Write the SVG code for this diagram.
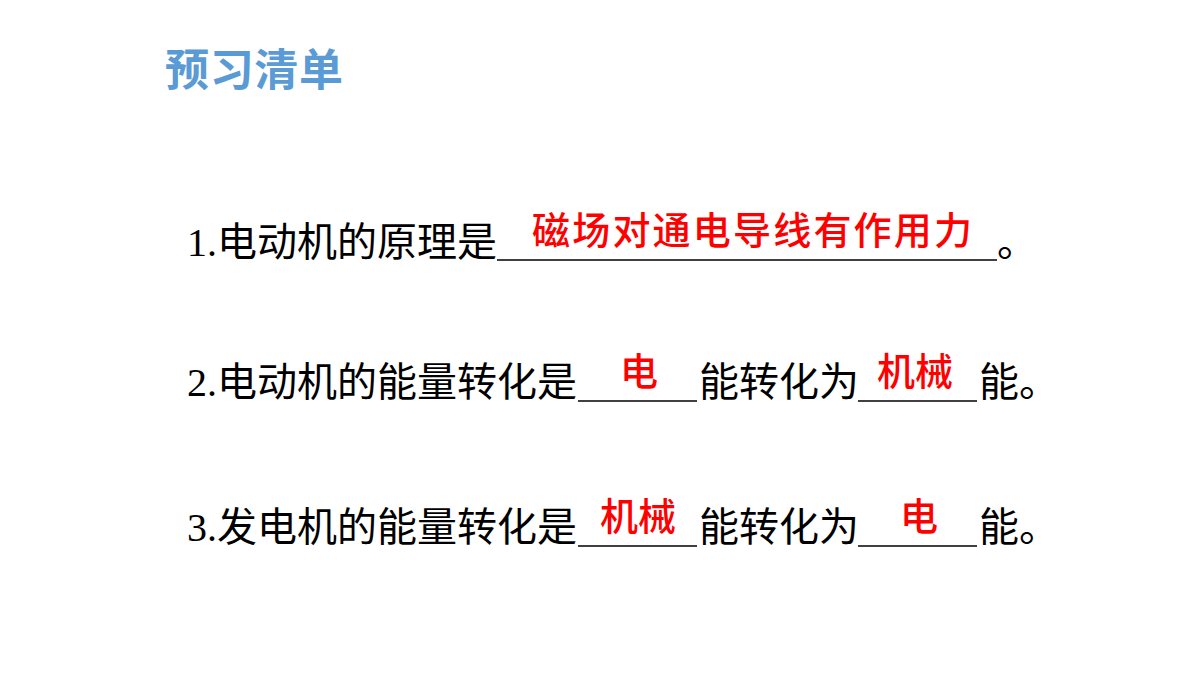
<svg xmlns="http://www.w3.org/2000/svg" width="1200" height="675" viewBox="0 0 1200 675">
<style>
.t{font-family:"Liberation Serif","Noto Sans CJK SC",serif;font-size:40px;fill:#000}
.a{font-family:"Noto Sans CJK SC",sans-serif;font-size:38px;fill:#FF0000;font-weight:500}
.u{stroke:#000;stroke-width:1.5}
</style>
<rect width="1200" height="675" fill="#fff"/>
<text x="165" y="86" textLength="178" style="font-family:'Noto Sans CJK SC',sans-serif;font-size:44px;font-weight:bold;fill:#5B9BD5">预习清单</text>
<g id="q1">
<text class="t" x="187" y="256">1.电动机的原理是</text>
<line class="u" x1="497" y1="260" x2="997" y2="260"/>
<text class="t" x="997" y="256">。</text>
<text class="a" x="532" y="244" textLength="440">磁场对通电导线有作用力</text>
</g>
<g id="q2">
<text class="t" x="187" y="396">2.电动机的能量转化是</text>
<line class="u" x1="578" y1="401" x2="697" y2="401"/>
<text class="t" x="699" y="396">能转化为</text>
<line class="u" x1="858" y1="401" x2="977" y2="401"/>
<text class="t" x="979" y="396">能。</text>
<text class="a" x="620" y="385">电</text>
<text class="a" x="877" y="385">机械</text>
</g>
<g id="q3">
<text class="t" x="187" y="541">3.发电机的能量转化是</text>
<line class="u" x1="578" y1="546" x2="697" y2="546"/>
<text class="t" x="699" y="541">能转化为</text>
<line class="u" x1="858" y1="546" x2="977" y2="546"/>
<text class="t" x="979" y="541">能。</text>
<text class="a" x="600" y="530">机械</text>
<text class="a" x="900" y="530">电</text>
</g>
</svg>
